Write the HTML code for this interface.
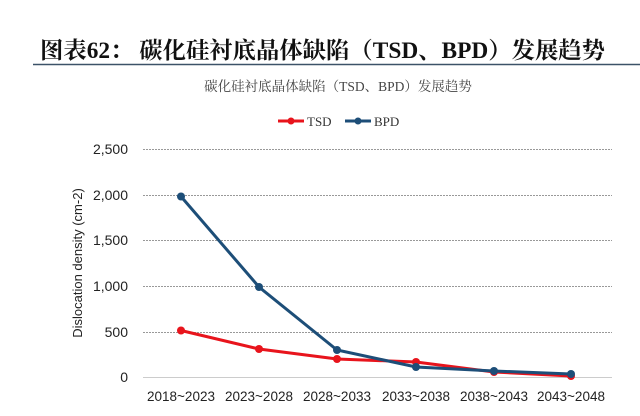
<!DOCTYPE html>
<html><head><meta charset="utf-8"><style>
body{margin:0;width:640px;height:411px;background:#fff;overflow:hidden}
</style></head><body>
<svg width="640" height="411" xmlns="http://www.w3.org/2000/svg" font-family="Liberation Sans, Noto Sans CJK SC, sans-serif">
<text x="40" y="58" font-size="23" font-weight="bold" font-family="Liberation Serif, Noto Serif CJK SC, serif" fill="#111" textLength="565" lengthAdjust="spacingAndGlyphs">图表62：  碳化硅衬底晶体缺陷（TSD、BPD）发展趋势</text>
<line x1="33" y1="64.5" x2="640" y2="64.5" stroke="#3c5268" stroke-width="1.5"/>
<text x="338" y="91" font-size="13.5" text-anchor="middle" fill="#444" font-family="Liberation Serif, Noto Serif CJK SC, serif">碳化硅衬底晶体缺陷（TSD、BPD）发展趋势</text>
<line x1="278" y1="121" x2="304" y2="121" stroke="#e8141c" stroke-width="3"/><circle cx="291" cy="121" r="3.5" fill="#e8141c"/>
<text x="307" y="126" font-size="13" fill="#333" font-family="Liberation Serif, serif">TSD</text>
<line x1="345" y1="121" x2="371" y2="121" stroke="#1d4e78" stroke-width="3"/><circle cx="358" cy="121" r="3.5" fill="#1d4e78"/>
<text x="374" y="126" font-size="13" fill="#333" font-family="Liberation Serif, serif">BPD</text>
<g stroke="#999" stroke-width="1" stroke-dasharray="2,1">
<line x1="143" y1="149.5" x2="612" y2="149.5"/><line x1="143" y1="195.5" x2="612" y2="195.5"/><line x1="143" y1="240.5" x2="612" y2="240.5"/><line x1="143" y1="286.5" x2="612" y2="286.5"/><line x1="143" y1="332.5" x2="612" y2="332.5"/></g>
<line x1="143" y1="377.5" x2="612" y2="377.5" stroke="#ccc"/>
<g font-size="14" fill="#222" text-anchor="end">
<text x="128" y="154">2,500</text><text x="128" y="200">2,000</text><text x="128" y="245">1,500</text><text x="128" y="291">1,000</text><text x="128" y="337">500</text><text x="128" y="382">0</text></g>
<text transform="translate(82,263) rotate(-90)" font-size="13" text-anchor="middle" fill="#222">Dislocation density (cm-2)</text>
<g font-size="13.5" fill="#222" text-anchor="middle">
<text x="181" y="401">2018~2023</text><text x="259" y="401">2023~2028</text><text x="337" y="401">2028~2033</text><text x="416" y="401">2033~2038</text><text x="494" y="401">2038~2043</text><text x="571" y="401">2043~2048</text></g>
<polyline fill="none" stroke="#e8141c" stroke-width="3" points="181,330.5 259,349 337,359 416,362 494,372 571,376"/>
<g fill="#e8141c"><circle cx="181" cy="330.5" r="4"/><circle cx="259" cy="349" r="4"/><circle cx="337" cy="359" r="4"/><circle cx="416" cy="362" r="4"/><circle cx="494" cy="372" r="4"/><circle cx="571" cy="376" r="4"/></g>
<polyline fill="none" stroke="#1d4e78" stroke-width="3" points="181,196.5 259,287 337,350 416,367 494,371 571,374"/>
<g fill="#1d4e78"><circle cx="181" cy="196.5" r="4"/><circle cx="259" cy="287" r="4"/><circle cx="337" cy="350" r="4"/><circle cx="416" cy="367" r="4"/><circle cx="494" cy="371" r="4"/><circle cx="571" cy="374" r="4"/></g>
</svg>
</body></html>
